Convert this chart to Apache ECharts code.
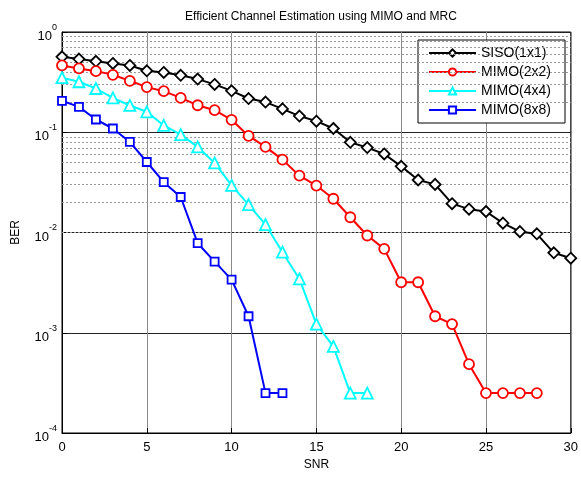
<!DOCTYPE html>
<html>
<head>
<meta charset="utf-8">
<script src="https://cdn.jsdelivr.net/npm/echarts@6/dist/echarts.min.js"></script>
<style>
html,body{margin:0;padding:0;background:#fff;}
#chart{width:581px;height:477px;}
</style>
</head>
<body>
<div id="chart"></div>
<script>
// ---- data ----
const snr = [0,1,2,3,4,5,6,7,8,9,10,11,12,13,14,15,16,17,18,19,20,21,22,23,24,25,26,27,28,29,30];
const seriesNames = ['SISO(1x1)','MIMO(2x2)','MIMO(4x4)','MIMO(8x8)'];
const siso = [0.566,0.537,0.51,0.486,0.464,0.41,0.395,0.37,0.339,0.30,0.259,0.217,0.20,0.171,0.145,0.129,0.109,0.0794,0.0703,0.0607,0.0457,0.0334,0.0302,0.0194,0.0171,0.0162,0.0124,0.0102,0.0097,0.00627,0.00554];
const mimo2 = [0.464,0.433,0.407,0.374,0.326,0.282,0.257,0.22,0.186,0.166,0.133,0.0919,0.0714,0.0533,0.0369,0.0294,0.0217,0.0142,0.00933,0.00687,0.00319,0.00319,0.00146,0.00122,0.000486,0.00025,0.00025,0.00025,0.00025];
const mimo4 = [0.35,0.319,0.273,0.22,0.185,0.16,0.117,0.0948,0.0714,0.0494,0.0295,0.019,0.012,0.00636,0.00344,0.00122,0.00073,0.00025,0.00025];
const mimo8 = [0.206,0.179,0.134,0.109,0.080,0.0505,0.0318,0.0226,0.00782,0.00513,0.00339,0.00146,0.00025,0.00025];
const xTicks = [0,5,10,15,20,25,30];
const yDecades = [-4,-3,-2,-1,0];
// ------------------------------------------

const FONT = 'Liberation Sans, Arial, sans-serif';
function pairs(vals){ return vals.map((v,i)=>[snr[i], v]); }

// minor log grid values (2..9 in each decade)
const minorLines = [];
for (let d = yDecades[0]; d < yDecades[yDecades.length-1]; d++) {
  for (let m = 2; m <= 9; m++) minorLines.push({yAxis: m * Math.pow(10, d)});
}

const styles = [
  {color:'#000000', symbol:'diamond', size:11},
  {color:'#ff0000', symbol:'circle', size:10},
  {color:'#00ffff', symbol:'triangle', size:11},
  {color:'#0000ff', symbol:'rect', size:8}
];
const dataSets = [siso, mimo2, mimo4, mimo8];

const series = dataSets.map((d, i) => ({
  name: seriesNames[i],
  type: 'line',
  data: pairs(d),
  symbol: styles[i].symbol,
  symbolSize: styles[i].size,
  showAllSymbol: true,
  lineStyle: {color: styles[i].color, width: 2},
  itemStyle: {color: '#ffffff', borderColor: styles[i].color, borderWidth: 1.8},
  z: 10 + i,
  animation: false
}));

series.unshift({
  name: 'minorGrid',
  type: 'line',
  data: [],
  silent: true,
  animation: false,
  z: 1,
  markLine: {
    silent: true,
    symbol: ['none','none'],
    animation: false,
    label: {show: false},
    lineStyle: {type: [2,2], color: '#9a9a9a', width: 1},
    emphasis: {disabled: true},
    data: minorLines
  }
});

const chart = echarts.init(document.getElementById('chart'), null, {renderer: 'canvas'});
chart.setOption({
  backgroundColor: '#ffffff',
  animation: false,
  title: {
    text: 'Efficient Channel Estimation using MIMO and MRC',
    left: 316, top: 6, textAlign: 'center',
    textStyle: {fontFamily: FONT, fontSize: 12, fontWeight: 'normal', color: '#000'}
  },
  grid: {left: 62, top: 32, width: 509, height: 401, show: true, borderColor: '#000', borderWidth: 1, backgroundColor: 'transparent'},
  legend: {
    data: seriesNames,
    orient: 'vertical',
    left: 418, top: 40,
    itemWidth: 47, itemHeight: 9, itemGap: 5,
    padding: [6, 14, 6, 10],
    backgroundColor: '#ffffff',
    borderColor: '#000', borderWidth: 1,
    textStyle: {fontFamily: FONT, fontSize: 14, color: '#000'}
  },
  xAxis: {
    type: 'value', min: 0, max: 30, interval: 5,
    name: 'SNR', nameLocation: 'middle', nameGap: 25,
    nameTextStyle: {fontFamily: FONT, fontSize: 12, color: '#000'},
    axisLine: {show: true, lineStyle: {color: '#000', width: 1}},
    axisTick: {show: true, inside: true, length: 5, lineStyle: {color: '#000'}},
    axisLabel: {fontFamily: FONT, fontSize: 13, color: '#000', margin: 8},
    splitLine: {show: true, lineStyle: {color: '#8a8a8a', width: 1}}
  },
  yAxis: {
    type: 'log', logBase: 10, min: 1e-4, max: 1,
    name: 'BER', nameLocation: 'middle', nameGap: 40, nameRotate: 90,
    nameTextStyle: {fontFamily: FONT, fontSize: 12, color: '#000'},
    axisLine: {show: true, lineStyle: {color: '#000', width: 1}},
    axisTick: {show: true, inside: true, length: 5, lineStyle: {color: '#000'}},
    axisLabel: {
      margin: 5,
      formatter: function (v) {
        const e = Math.round(Math.log10(v));
        return '{b|10}{s|' + e + '}';
      },
      rich: {
        b: {fontFamily: FONT, fontSize: 13, color: '#000', lineHeight: 18, verticalAlign: 'bottom', padding: [0,0,-2,0]},
        s: {fontFamily: FONT, fontSize: 9, color: '#000', lineHeight: 18, verticalAlign: 'top'}
      }
    },
    splitLine: {show: true, lineStyle: {color: '#222', width: 1}}
  },
  series: series
});
</script>
</body>
</html>
